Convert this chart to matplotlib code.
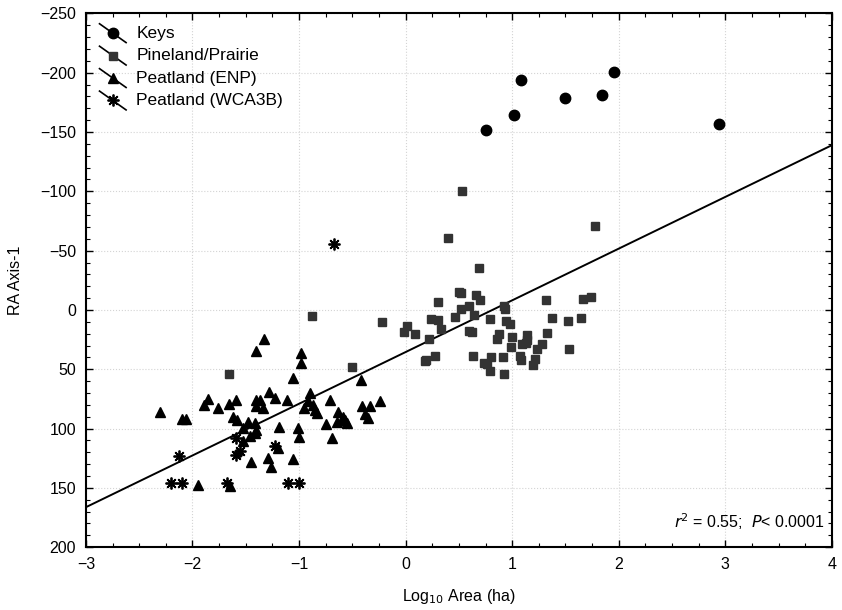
"""
RA Axis-1 vs Log10 Area scatter with regression line
"""

import numpy as np
import matplotlib
matplotlib.use('Agg')
import matplotlib.pyplot as plt
from matplotlib.lines import Line2D
from matplotlib.legend_handler import HandlerBase
from matplotlib.ticker import MultipleLocator

plt.rcParams['font.family'] = ['Liberation Sans', 'DejaVu Sans']

# Keys
keys_x = [0.75, 1.02, 1.08, 1.50, 1.84, 1.96, 2.94]
keys_y = [-152, -164, -194, -179, -181, -201, -157]

# Pineland/Prairie
pine_x = [0.40, 1.775, 0.687, 0.50, 0.52, 0.30, 0.665, 0.70, 0.524, 0.593,
          0.468, 0.234, 0.30, 0.646, 0.79, 0.924, 0.937, 0.946, 0.977, 0.014,
          -0.017, 0.086, 0.33, 0.593, 0.624, 0.215, 0.88, 0.853, 0.996, 1.14,
          1.143, 1.093, 1.134, 0.99, 1.23, 1.284, 1.33, 1.315, 1.375, 1.52,
          1.646, 1.665, 1.737, 1.53, 0.18, 0.19, 0.28, 0.637, 0.733, 0.768,
          0.80, 0.796, 0.91, 0.924, 1.07, 1.087, 1.21, 1.20, -0.217, 0.53,
          -0.874, -0.505, -1.655]
pine_y = [-61, -71, -35, -15, -14.6, -7, -13, -8.4, -1, -3.4,
          6, 7.3, 8.4, 4.5, 7.3, -3.4, -0.6, 9, 11.8, 13.5,
          18.3, 20.5, 16, 17.4, 18.3, 24.5, 20.5, 24.5, 22.5, 21.1,
          25.3, 28.9, 28.1, 31.5, 33.2, 28.7, 19.1, -8.4, 6.7, 9,
          6.7, -9.5, -11, 32.9, 42.7, 42.2, 38.5, 38.5, 45, 45.8,
          39.6, 51.4, 39.6, 53.7, 38.5, 42.2, 41.3, 46.1, 10.4, -100.6,
          4.8, 47.8, 54]

# Peatland (ENP)
enp_x = [-2.30, -2.10, -2.065, -1.853, -1.89, -1.76, -1.66, -1.595, -1.405, -1.33,
         -1.405, -1.40, -1.624, -1.586, -1.524, -1.477, -1.415, -1.53, -1.46, -1.415,
         -1.446, -1.947, -1.65, -0.977, -0.986, -1.06, -1.283, -1.227, -1.37, -1.337,
         -1.11, -0.90, -0.915, -0.952, -0.868, -0.852, -0.827, -0.714, -0.633, -0.64,
         -0.586, -0.57, -0.549, -0.751, -0.69, -0.414, -0.41, -0.33, -0.38, -0.35,
         -1.187, -1.008, -1.0, -1.40, -1.196, -1.29, -1.265, -1.055, -0.242]
enp_y = [85.7, 92.2, 92.2, 75.3, 80.1, 82.4, 79.3, 75.9, 34.3, 24.5,
         75.9, 81, 90.5, 92.7, 99.8, 94.2, 95.5, 110.5, 106.2, 104,
         127.9, 147.6, 148.4, 36.5, 44.4, 57.1, 68.9, 73.9, 75.9, 82.9,
         75.9, 70.2, 76.5, 82.9, 80.1, 84.3, 87.1, 75.9, 86.3, 94.2,
         90, 92.7, 95.5, 96.4, 108.2, 59, 81, 81, 88, 91,
         98.4, 99.2, 107.3, 101.2, 116.6, 125, 132.6, 125.9, 76.5]

# Peatland (WCA3B)
wca_x = [-2.13, -2.20, -2.10, -1.68, -1.59, -1.55, -1.59, -1.23, -1.10, -1.00, -0.67]
wca_y = [123, 146, 146, 146, 108, 119, 122, 115, 146, 146, -56]

# 回归线
fit_intercept = 35.5
fit_slope = -43.6

labels = ['Keys', 'Pineland/Prairie', 'Peatland (ENP)', 'Peatland (WCA3B)']
STAR = (8, 2, 0)


class DiagHandler(HandlerBase):
    """图例: 斜线穿过标记"""
    def create_artists(self, legend, orig_handle, xdescent, ydescent,
                       width, height, fontsize, trans):
        line = Line2D([0.05 * width, 0.95 * width], [height * 1.15, -height * 0.4],
                      color='black', lw=1.2, transform=trans)
        mk = Line2D([width * 0.5], [height * 0.38], linestyle='none',
                    marker=orig_handle.get_marker(),
                    markersize=orig_handle.get_markersize(),
                    markerfacecolor=orig_handle.get_markerfacecolor(),
                    markeredgecolor=orig_handle.get_markeredgecolor(),
                    markeredgewidth=orig_handle.get_markeredgewidth(),
                    transform=trans)
        return [line, mk]


fig, ax = plt.subplots(figsize=(8.42, 6.10), dpi=100)
fig.subplots_adjust(left=0.102, right=0.988, bottom=0.103, top=0.978)

xs = np.array([-3, 4])
ax.plot(xs, fit_intercept + fit_slope * xs, color='black', lw=1.4, zorder=2)

ax.plot(keys_x, keys_y, 'o', color='black', ms=7.5, zorder=3)
ax.plot(pine_x, pine_y, 's', color='#333333', ms=5.5, zorder=3)
ax.plot(enp_x, enp_y, '^', color='black', ms=7.5, zorder=3)
ax.plot(wca_x, wca_y, marker=STAR, linestyle='none', color='black', ms=8.5, mew=1.3, zorder=3)

ax.set_xlim(-3, 4)
ax.set_ylim(200, -250)
ax.set_yticks(np.arange(-250, 201, 50))
ax.xaxis.set_minor_locator(MultipleLocator(0.25))
ax.yaxis.set_minor_locator(MultipleLocator(10))
ax.tick_params(which='both', direction='in', top=True, right=True, labelsize=11.5)
ax.tick_params(which='major', length=5, width=1, pad=7)
ax.tick_params(which='minor', length=3, width=0.8)
ax.grid(True, which='major', color='#d4d4d4', linestyle=':', lw=0.8)
for s in ax.spines.values():
    s.set_linewidth(1.5)

ax.set_xlabel('Log$_{10}$ Area (ha)', fontsize=11.5, labelpad=11)
ax.set_ylabel('RA Axis-1', fontsize=11.5, labelpad=12)

ax.text(0.99, 0.047, '$r$$^2$ = 0.55;  $P$< 0.0001', transform=ax.transAxes,
        ha='right', va='center', fontsize=11.5)

handles = [
    Line2D([], [], marker='o', color='black', ms=7.5, linestyle='none'),
    Line2D([], [], marker='s', color='#333333', ms=5.5, linestyle='none'),
    Line2D([], [], marker='^', color='black', ms=7.5, linestyle='none'),
    Line2D([], [], marker=STAR, color='black', ms=8.5, mew=1.3, linestyle='none'),
]
ax.legend(handles, labels, loc='upper left', frameon=False, fontsize=12.5,
          handler_map={Line2D: DiagHandler()}, handlelength=1.7,
          handletextpad=0.5, labelspacing=0.42, borderaxespad=0.3)

plt.savefig('out.png', dpi=100)
